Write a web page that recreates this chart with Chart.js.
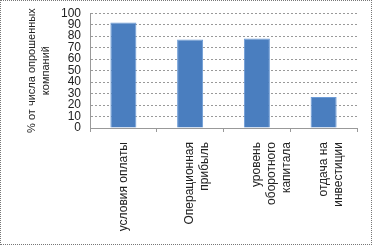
<!DOCTYPE html>
<html>
<head>
<meta charset="utf-8">
<script src="https://cdn.jsdelivr.net/npm/chart.js@4/dist/chart.umd.min.js"></script>
<style>
  html, body { margin: 0; padding: 0; background: #fff; }
  #wrap { position: relative; width: 372px; height: 245px; box-sizing: border-box; border: 1px dotted #777; }
  canvas { display: block; }
</style>
</head>
<body>
<div id="wrap"><canvas id="chart" width="370" height="243"></canvas></div>
<script>
// ---- data ----
const categories = [
  ["условия оплаты"],
  ["Операционная", "прибыль"],
  ["уровень", "оборотного", "капитала"],
  ["отдача на", "инвестиции"],
];
const shares = [92, 77, 78, 27];
const yTitle = ["% от числа опрошенных", "компаний"];

const FONT = "'Liberation Sans', Arial, sans-serif";

new Chart(document.getElementById("chart").getContext("2d"), {
  type: "bar",
  data: {
    labels: categories,
    datasets: [{
      data: shares,
      backgroundColor: "#4a7ebf",
      borderColor: "#6c9bd6",
      borderWidth: 1,
      barPercentage: 0.39,
      categoryPercentage: 1,
    }],
  },
  options: {
    responsive: false,
    animation: false,
    layout: { padding: { top: 10, right: 14, left: 24, bottom: 0 } },
    plugins: { legend: { display: false }, tooltip: { enabled: false } },
    scales: {
      x: {
        afterFit: s => { s.height = 116; },
        grid: { drawOnChartArea: false, offset: true, color: "#999", tickLength: 4 },
        border: { color: "#999" },
        ticks: {
          minRotation: 90, maxRotation: 90, autoSkip: false,
          color: "#222", font: { family: FONT, size: 12, lineHeight: 1.25 }, padding: 10,
        },
      },
      y: {
        min: 0, max: 100,
        afterFit: s => { s.width = 65; },
        grid: { color: "#999999", lineWidth: 1, tickColor: "rgba(0,0,0,0)", tickLength: 4 },
        border: { display: true, color: "#999", dash: [2, 2] },
        ticks: { stepSize: 10, autoSkip: false, color: "#222", font: { family: FONT, size: 12 }, padding: 5 },
        title: {
          display: true, text: yTitle, color: "#222",
          font: { family: FONT, size: 11, lineHeight: 1.25 }, padding: { top: 0, bottom: 0 },
        },
      },
    },
  },
});
</script>
</body>
</html>
